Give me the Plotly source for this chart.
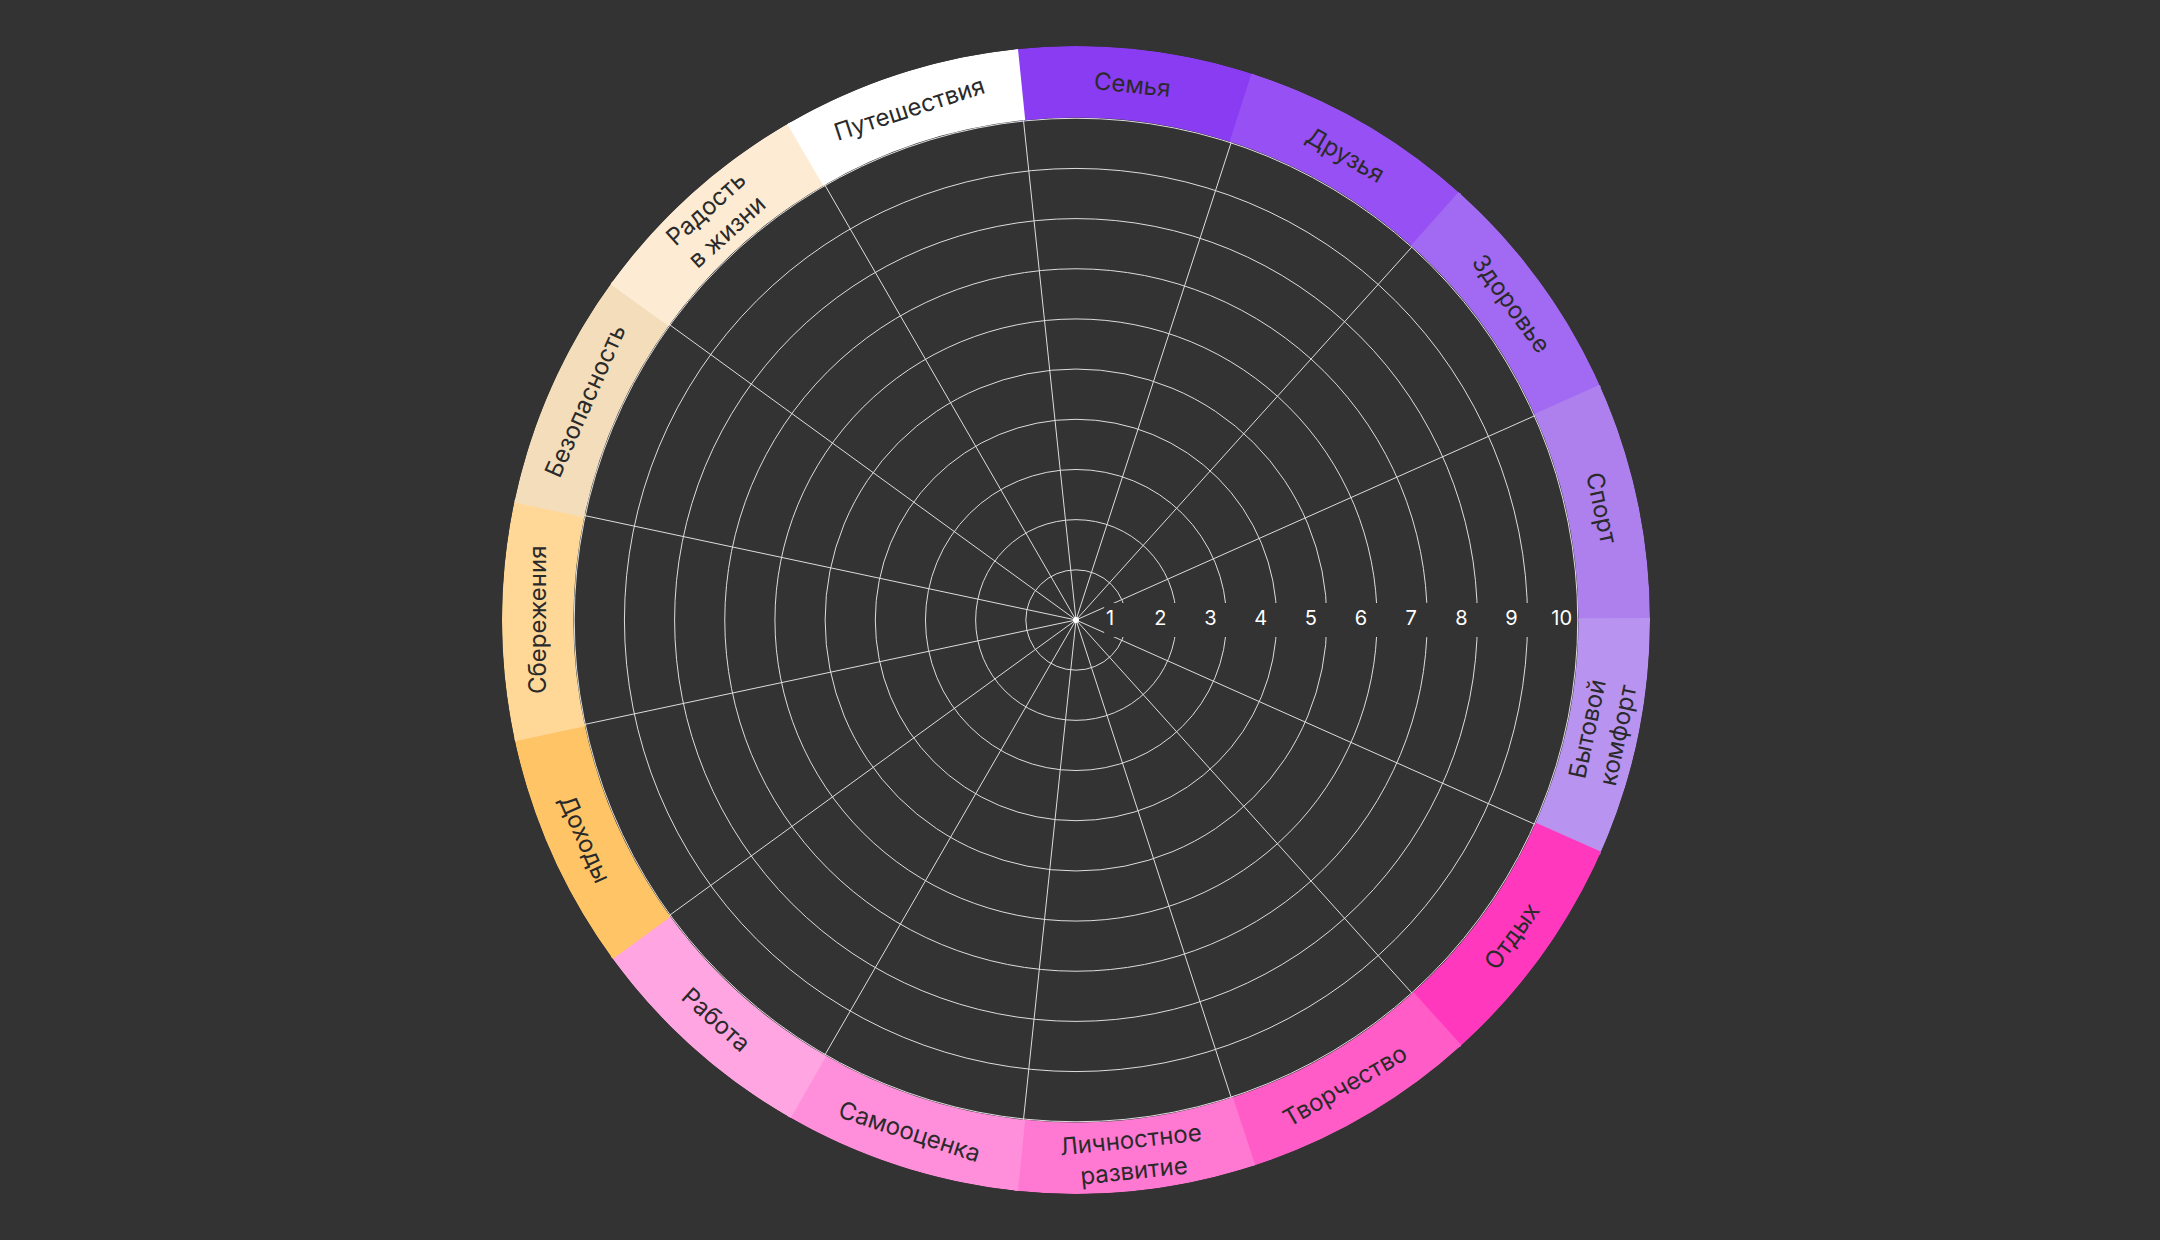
import plotly.graph_objects as go

# ---- data ----
categories = ["Семья", "Друзья", "Здоровье", "Спорт", "Бытовой комфорт", "Отдых",
              "Творчество", "Личностное развитие", "Самооценка", "Работа", "Доходы",
              "Сбережения", "Безопасность", "Радость в жизни", "Путешествия"]
label_texts = ["Семья", "Друзья", "Здоровье", "Спорт", "Бытовой<br>комфорт", "Отдых",
               "Творчество", "Личностное<br>развитие", "Самооценка", "Работа", "Доходы",
               "Сбережения", "Безопасность", "Радость<br>в жизни", "Путешествия"]
sector_colors = ["#8A3CF3", "#9750F3", "#A269F2", "#AD80EE", "#B893F0", "#FF38BE",
                 "#FF5CC7", "#FF78D2", "#FF8FDA", "#FFA6E2", "#FFC466", "#FFD898",
                 "#F3DDBA", "#FDEBD3", "#FFFFFF"]
scale_ticks = [1, 2, 3, 4, 5, 6, 7, 8, 9, 10]
scale_labels = ["1", "2", "3", "4", "5", "6", "7", "8", "9", "10"]

# ---- layout constants ----
W, H = 2160, 1240
BG = "#333333"
CX, CY = 1076, 620          # centre in pixels (from top-left)
R_OUT = 574                 # outer radius of ring in px
R_MAX = 11.44               # radial range max (10 -> ~502 px)
ROT = 84                    # angular rotation (first sector centre)
n = len(categories)
step = 360 / n
ring_base = 10.015
ring_len = R_MAX - ring_base

fig = go.Figure()

# outer coloured ring
fig.add_trace(go.Barpolar(
    r=[ring_len] * n,
    base=[ring_base] * n,
    theta=[i * step for i in range(n)],
    width=[step + 0.4] * n,
    marker=dict(color=sector_colors, line=dict(width=0)),
    hoverinfo="skip",
    showlegend=False,
))

# background boxes hiding grid circles behind the scale numbers
fig.add_trace(go.Scatterpolar(
    r=[t - 0.1 for t in scale_ticks[:-1]],
    theta=[ROT] * (len(scale_ticks) - 1),
    mode="markers",
    marker=dict(symbol="square", size=34, color=BG, line=dict(width=0)),
    hoverinfo="skip",
    showlegend=False,
))

# scale numbers
fig.add_trace(go.Scatterpolar(
    r=[t - 0.32 for t in scale_ticks],
    theta=[ROT] * len(scale_ticks),
    mode="text",
    text=scale_labels,
    textposition="middle center",
    textfont=dict(family="Inter, Roboto, sans-serif", size=20, color="#FFFFFF"),
    hoverinfo="skip",
    showlegend=False,
))

# centre dot
fig.add_trace(go.Scatterpolar(
    r=[0], theta=[0], mode="markers",
    marker=dict(size=6, color="#FFFFFF"),
    hoverinfo="skip", showlegend=False,
))

# sector boundaries (grid spokes), skipping the one hidden under the numbers
bounds = [step / 2 + i * step for i in range(n)]
bounds = [b for b in bounds if abs(b - ROT) > 1e-6]

dom_x = [(CX - R_OUT) / W, (CX + R_OUT) / W]
dom_y = [(H - CY - R_OUT) / H, (H - CY + R_OUT) / H]

fig.update_layout(
    width=W, height=H,
    margin=dict(l=0, r=0, t=0, b=0),
    paper_bgcolor=BG,
    plot_bgcolor=BG,
    showlegend=False,
    hovermode=False,
    polar=dict(
        domain=dict(x=dom_x, y=dom_y),
        bgcolor=BG,
        bargap=0,
        radialaxis=dict(
            range=[0, R_MAX], tickvals=scale_ticks, showticklabels=False,
            ticks="", showline=False, gridcolor="#DDDDDD", gridwidth=1.2,
            layer="below traces",
        ),
        angularaxis=dict(
            type="linear", thetaunit="degrees", rotation=ROT, direction="clockwise",
            tickvals=bounds, showticklabels=False, ticks="", showline=False,
            gridcolor="#DDDDDD", gridwidth=1.2, layer="below traces",
        ),
    ),
)

# ring labels
import math
R_LAB = (502 + R_OUT) / 2
annotations = []
for i, txt in enumerate(label_texts):
    ang = (ROT - i * step) % 360
    if ang <= 180 + 1e-6:
        ta = 90 - ang
    else:
        ta = 270 - ang
    px = CX + R_LAB * math.cos(math.radians(ang))
    py = CY - R_LAB * math.sin(math.radians(ang))
    annotations.append(dict(
        x=px / W, y=1 - py / H, xref="paper", yref="paper",
        text=txt, showarrow=False, textangle=ta,
        xanchor="center", yanchor="middle", align="center",
        font=dict(family="Inter, Roboto, sans-serif", size=24, color="#2A2A2A"),
    ))
fig.update_layout(annotations=annotations)

fig.write_html("out.html")
